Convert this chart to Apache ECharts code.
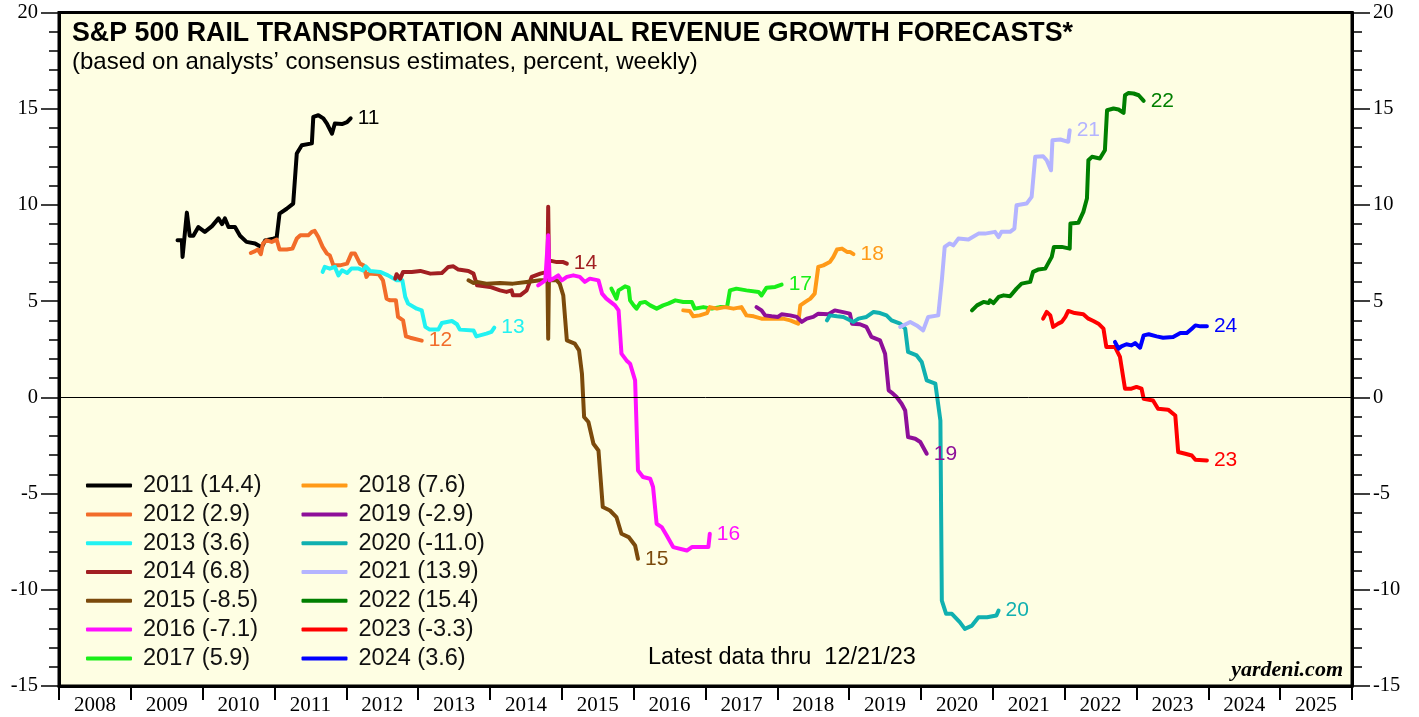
<!DOCTYPE html>
<html>
<head>
<meta charset="utf-8">
<title>S&amp;P 500 Rail Transportation Annual Revenue Growth Forecasts</title>
<script src="https://cdn.jsdelivr.net/npm/echarts@6/dist/echarts.min.js"></script>
<style>
  html, body { margin: 0; padding: 0; background: #ffffff; }
  #chart { width: 1419px; height: 717px; }
</style>
</head>
<body>
<div id="chart"></div>
<script>
'use strict';

// year slots on the bottom axis
var years = ['2008','2009','2010','2011','2012','2013','2014','2015','2016','2017',
             '2018','2019','2020','2021','2022','2023','2024','2025'];

// legend names: forecast year (final value)
var names = ['2011 (14.4)','2012 (2.9)','2013 (3.6)','2014 (6.8)','2015 (-8.5)','2016 (-7.1)','2017 (5.9)',
             '2018 (7.6)','2019 (-2.9)','2020 (-11.0)','2021 (13.9)','2022 (15.4)','2023 (-3.3)','2024 (3.6)'];
var tags = ['11','12','13','14','15','16','17','18','19','20','21','22','23','24'];

// weekly consensus forecasts, [decimal year, percent]
var fc2011 = [[2009.65,8.16],[2009.71,8.16],[2009.72,7.3],[2009.78,9.6],[2009.82,8.4],[2009.87,8.4],[2009.94,8.85],
  [2010.03,8.6],[2010.13,8.9],[2010.22,9.3],[2010.27,9.0],[2010.31,9.3],[2010.36,8.85],[2010.45,8.85],[2010.52,8.4],
  [2010.61,8.08],[2010.73,8.0],[2010.82,7.8],[2010.87,8.15],[2010.98,8.25],[2011.03,8.3],[2011.07,9.55],[2011.17,9.8],
  [2011.26,10.07],[2011.31,12.67],[2011.38,13.1],[2011.52,13.2],[2011.54,14.58],[2011.61,14.66],[2011.68,14.5],
  [2011.73,14.23],[2011.80,13.7],[2011.84,14.23],[2011.94,14.2],[2012.01,14.3],[2012.06,14.5]];
var fc2012 = [[2010.67,7.5],[2010.73,7.6],[2010.77,7.68],[2010.81,7.44],[2010.84,8.0],[2010.89,8.16],[2010.96,8.08],
  [2011.03,8.2],[2011.07,7.68],[2011.17,7.68],[2011.25,7.73],[2011.31,8.25],[2011.36,8.42],[2011.47,8.42],[2011.52,8.6],
  [2011.56,8.65],[2011.61,8.33],[2011.67,7.82],[2011.73,7.47],[2011.77,7.38],[2011.82,6.86],[2011.91,6.86],[2012.01,6.95],
  [2012.07,7.47],[2012.12,7.47],[2012.19,6.95],[2012.24,6.86],[2012.28,6.26],[2012.31,6.43],[2012.45,6.4],[2012.51,6.08],
  [2012.56,5.13],[2012.61,5.04],[2012.69,5.04],[2012.72,4.18],[2012.79,4.0],[2012.83,3.17],[2012.89,3.1],[2013.05,2.95]];
var fc2013 = [[2011.67,6.52],[2011.70,6.78],[2011.77,6.69],[2011.84,6.78],[2011.89,6.34],[2011.94,6.6],[2012.01,6.46],
  [2012.07,6.69],[2012.17,6.69],[2012.23,6.6],[2012.27,6.81],[2012.33,6.57],[2012.47,6.52],[2012.58,6.34],[2012.70,6.08],
  [2012.78,6.08],[2012.82,5.22],[2012.86,4.87],[2012.98,4.61],[2013.05,4.52],[2013.10,3.66],[2013.16,3.52],[2013.28,3.52],
  [2013.33,3.86],[2013.47,3.97],[2013.54,3.8],[2013.58,3.52],[2013.77,3.48],[2013.81,3.17],[2013.95,3.31],[2014.02,3.4],
  [2014.06,3.62]];
var fc2014 = [[2012.68,6.17],[2012.70,6.4],[2012.75,6.17],[2012.79,6.52],[2012.91,6.52],[2013.03,6.57],[2013.17,6.43],
  [2013.33,6.46],[2013.37,6.6],[2013.42,6.78],[2013.49,6.81],[2013.56,6.64],[2013.70,6.57],[2013.77,6.43],[2013.82,5.82],
  [2014.00,5.74],[2014.14,5.56],[2014.23,5.48],[2014.30,5.56],[2014.32,5.3],[2014.42,5.3],[2014.51,5.56],[2014.58,6.26],
  [2014.70,6.43],[2014.80,6.52],[2014.81,9.9],[2014.82,7.12],[2014.93,7.03],[2015.02,7.03],[2015.07,6.95]];
var fc2015 = [[2013.70,6.08],[2013.77,5.94],[2013.82,6.0],[2013.95,5.91],[2014.14,5.94],[2014.32,5.91],[2014.51,6.0],
  [2014.70,6.08],[2014.80,6.08],[2014.81,3.05],[2014.82,6.08],[2014.93,6.08],[2014.97,5.91],[2015.02,5.3],[2015.07,2.96],
  [2015.18,2.79],[2015.24,2.44],[2015.28,1.23],[2015.31,-1.02],[2015.37,-1.28],[2015.44,-2.41],[2015.51,-2.76],
  [2015.57,-5.7],[2015.67,-5.88],[2015.76,-6.22],[2015.83,-7.09],[2015.93,-7.26],[2016.02,-7.7],[2016.06,-8.39]];
var fc2016 = [[2014.67,5.82],[2014.77,6.08],[2014.81,8.42],[2014.83,6.08],[2014.88,6.17],[2014.95,6.34],[2015.00,6.08],
  [2015.07,6.26],[2015.16,6.34],[2015.25,6.26],[2015.32,6.0],[2015.39,6.17],[2015.51,6.08],[2015.56,5.39],[2015.62,5.13],
  [2015.74,4.78],[2015.79,4.52],[2015.83,2.27],[2015.90,1.92],[2015.95,1.75],[2016.02,0.88],[2016.06,-3.8],[2016.13,-4.14],
  [2016.23,-4.23],[2016.27,-4.66],[2016.32,-6.57],[2016.39,-6.74],[2016.46,-7.18],[2016.55,-7.78],[2016.74,-7.96],
  [2016.81,-7.78],[2017.04,-7.78],[2017.06,-7.09]];
var fc2017 = [[2015.69,5.65],[2015.76,5.13],[2015.79,5.56],[2015.83,5.65],[2015.88,5.77],[2015.93,5.7],[2015.95,5.04],
  [2016.00,4.78],[2016.04,4.61],[2016.09,4.9],[2016.16,4.96],[2016.23,4.78],[2016.32,4.61],[2016.41,4.78],[2016.48,4.87],
  [2016.58,5.04],[2016.69,4.96],[2016.81,4.96],[2016.85,4.61],[2016.97,4.69],[2017.09,4.61],[2017.20,4.69],[2017.30,4.69],
  [2017.34,5.56],[2017.43,5.65],[2017.57,5.56],[2017.74,5.48],[2017.78,5.3],[2017.85,5.7],[2017.97,5.74],[2018.06,5.86]];
var fc2018 = [[2016.69,4.52],[2016.78,4.49],[2016.83,4.21],[2016.92,4.26],[2017.02,4.38],[2017.06,4.69],[2017.16,4.61],
  [2017.27,4.69],[2017.39,4.61],[2017.50,4.69],[2017.57,4.26],[2017.67,4.21],[2017.78,4.09],[2017.94,4.09],[2018.08,4.09],
  [2018.18,4.0],[2018.29,3.83],[2018.32,4.78],[2018.39,4.96],[2018.46,5.13],[2018.52,5.39],[2018.57,6.78],[2018.64,6.86],
  [2018.73,7.03],[2018.78,7.3],[2018.83,7.68],[2018.90,7.73],[2018.97,7.56],[2019.01,7.56],[2019.06,7.44]];
var fc2019 = [[2017.71,4.69],[2017.78,4.52],[2017.83,4.26],[2017.92,4.21],[2018.01,4.18],[2018.06,4.32],[2018.18,4.26],
  [2018.27,4.18],[2018.34,3.92],[2018.41,4.09],[2018.50,4.18],[2018.57,4.35],[2018.71,4.32],[2018.80,4.52],[2018.90,4.44],
  [2019.01,4.35],[2019.04,3.83],[2019.15,3.8],[2019.24,3.66],[2019.31,3.14],[2019.43,2.96],[2019.50,2.27],[2019.55,0.36],
  [2019.61,0.19],[2019.66,0.02],[2019.73,-0.33],[2019.78,-0.68],[2019.82,-2.06],[2019.92,-2.15],[2019.99,-2.32],
  [2020.08,-2.93]];
var fc2020 = [[2018.69,4.0],[2018.73,4.26],[2018.83,4.21],[2018.92,4.18],[2019.06,3.92],[2019.13,4.09],[2019.24,4.18],
  [2019.34,4.44],[2019.43,4.38],[2019.52,4.26],[2019.59,4.0],[2019.71,3.83],[2019.78,3.57],[2019.82,2.36],[2019.94,2.18],
  [2020.01,1.84],[2020.08,0.88],[2020.20,0.71],[2020.27,-1.2],[2020.29,-10.56],[2020.35,-11.25],[2020.43,-11.25],
  [2020.54,-11.68],[2020.61,-12.03],[2020.71,-11.86],[2020.80,-11.43],[2020.92,-11.43],[2021.05,-11.34],[2021.08,-11.08]];
var fc2021 = [[2019.71,3.66],[2019.85,3.92],[2019.94,3.74],[2020.03,3.48],[2020.10,4.18],[2020.24,4.26],[2020.29,6.08],
  [2020.33,7.82],[2020.40,8.0],[2020.45,7.9],[2020.52,8.25],[2020.66,8.2],[2020.80,8.51],[2020.89,8.51],[2021.03,8.6],
  [2021.08,8.33],[2021.12,8.6],[2021.24,8.6],[2021.30,8.77],[2021.33,9.98],[2021.47,10.07],[2021.54,10.42],[2021.59,12.5],
  [2021.70,12.53],[2021.75,12.32],[2021.81,11.8],[2021.83,13.36],[2021.94,13.4],[2022.05,13.28],[2022.07,13.88]];
var fc2022 = [[2020.71,4.52],[2020.78,4.78],[2020.87,4.96],[2020.94,4.9],[2020.96,5.04],[2021.01,4.9],[2021.08,5.22],
  [2021.15,5.3],[2021.24,5.25],[2021.33,5.65],[2021.40,5.91],[2021.52,6.0],[2021.56,6.52],[2021.63,6.64],[2021.73,6.69],
  [2021.82,7.3],[2021.85,7.82],[2021.96,7.82],[2022.07,7.73],[2022.08,9.03],[2022.19,9.07],[2022.26,9.64],[2022.31,10.33],
  [2022.33,12.32],[2022.38,12.5],[2022.49,12.41],[2022.56,12.84],[2022.59,14.92],[2022.68,15.01],[2022.75,14.96],
  [2022.82,14.78],[2022.84,15.7],[2022.89,15.82],[2022.96,15.79],[2023.03,15.7],[2023.10,15.41]];
var fc2023 = [[2021.70,4.09],[2021.75,4.44],[2021.80,4.26],[2021.84,3.66],[2021.91,3.83],[2021.96,3.92],[2022.01,4.18],
  [2022.05,4.49],[2022.14,4.38],[2022.26,4.32],[2022.33,4.09],[2022.40,3.97],[2022.47,3.83],[2022.54,3.57],[2022.58,2.62],
  [2022.70,2.62],[2022.77,2.1],[2022.84,0.45],[2022.93,0.45],[2023.00,0.54],[2023.07,0.45],[2023.10,-0.07],[2023.23,-0.16],
  [2023.30,-0.59],[2023.44,-0.64],[2023.54,-0.94],[2023.58,-2.84],[2023.68,-2.93],[2023.77,-3.02],[2023.82,-3.24],
  [2023.98,-3.28]];
var fc2024 = [[2022.70,2.88],[2022.75,2.53],[2022.79,2.65],[2022.86,2.76],[2022.93,2.7],[2022.98,2.82],[2023.05,2.58],
  [2023.10,3.22],[2023.17,3.28],[2023.28,3.17],[2023.37,3.1],[2023.51,3.14],[2023.61,3.34],[2023.70,3.34],[2023.77,3.57],
  [2023.82,3.74],[2023.89,3.69],[2023.98,3.69]];

var allData = [fc2011, fc2012, fc2013, fc2014, fc2015, fc2016, fc2017,
               fc2018, fc2019, fc2020, fc2021, fc2022, fc2023, fc2024];

var colors = ['#000000','#f26c2a','#22f2f2','#a11f22','#7b4a0c','#ff10ff','#19ee19',
              '#ff9a18','#8e0f99','#10b0b0','#b4b4ff','#007f00','#ff0000','#0000ff'];

var SANS = 'Liberation Sans, Arial, sans-serif';
var SERIF = 'Liberation Serif, Times New Roman, serif';

var series = [];
for (var i = 0; i < allData.length; i++) {
	var s = {
		name: names[i],
		type: 'line',
		xAxisIndex: 1,
		yAxisIndex: 0,
		color: colors[i],
		symbol: 'none',
		showSymbol: false,
		lineStyle: {width: 4, color: colors[i], cap: 'round', join: 'round'},
		endLabel: {
			show: true,
			formatter: tags[i],
			color: colors[i],
			fontFamily: SANS,
			fontSize: 21,
			distance: 7
		},
		data: allData[i]
	};
	if (i === 0) {
		// thin zero line across the plot
		s.markLine = {
			silent: true,
			symbol: ['none', 'none'],
			label: {show: false},
			lineStyle: {color: '#000', width: 1, type: 'solid'},
			data: [{yAxis: 0}]
		};
	}
	series.push(s);
}

var legendBase = {
	orient: 'vertical',
	top: 473.6,
	padding: 0,
	itemWidth: 46,
	itemHeight: 4,
	itemGap: 4.8,
	icon: 'roundRect',
	selectedMode: false,
	textStyle: {
		fontFamily: SANS,
		fontSize: 23.5,
		lineHeight: 23.7,
		color: '#111',
		padding: [0, 0, 0, 6]
	}
};

var yAxisBase = {
	type: 'value',
	min: -15,
	max: 20,
	interval: 5,
	axisLine: {show: true, onZero: false, lineStyle: {color: '#000', width: 3}},
	axisTick: {show: true, length: 18, lineStyle: {color: '#000', width: 1.5}},
	minorTick: {show: true, splitNumber: 5, length: 10, lineStyle: {color: '#000', width: 1.5}},
	axisLabel: {fontFamily: SERIF, fontSize: 20.5, color: '#000', margin: 21},
	splitLine: {show: false}
};

var option = {
	animation: false,
	title: [
		{
			text: 'S&P 500 RAIL TRANSPORTATION ANNUAL REVENUE GROWTH FORECASTS*',
			left: 72, top: 20, padding: 0,
			textStyle: {fontFamily: SANS, fontSize: 26.8, fontWeight: 'bold', color: '#000'}
		},
		{
			text: '(based on analysts\u2019 consensus estimates, percent, weekly)',
			left: 72, top: 50, padding: 0,
			textStyle: {fontFamily: SANS, fontSize: 24, fontWeight: 'normal', color: '#000'}
		},
		{
			text: 'Latest data thru  12/21/23',
			left: 648, top: 646, padding: 0,
			textStyle: {fontFamily: SANS, fontSize: 23.5, fontWeight: 'normal', color: '#000'}
		},
		{
			text: 'yardeni.com',
			right: 76, top: 659, padding: 0,
			textStyle: {fontFamily: SERIF, fontSize: 22, fontWeight: 'bold', fontStyle: 'italic', color: '#000'}
		}
	],
	legend: [
		Object.assign({}, legendBase, {left: 86, data: names.slice(0, 7)}),
		Object.assign({}, legendBase, {left: 301.5, data: names.slice(7)})
	],
	grid: {
		left: 59,
		right: 67,
		top: 12.5,
		bottom: 31,
		show: true,
		backgroundColor: '#fefee3',
		borderColor: '#000',
		borderWidth: 3
	},
	xAxis: [
		{
			type: 'category',
			data: years,
			boundaryGap: true,
			axisLine: {show: true, onZero: false, lineStyle: {color: '#000', width: 3}},
			axisTick: {show: true, interval: 0, length: 14, lineStyle: {color: '#000', width: 2}},
			axisLabel: {interval: 0, fontFamily: SERIF, fontSize: 21, color: '#000', margin: 9},
			splitLine: {show: false}
		},
		{
			type: 'value',
			min: 2008,
			max: 2026,
			show: false,
			axisLine: {onZero: false},
			splitLine: {show: false}
		}
	],
	yAxis: [
		Object.assign({}, yAxisBase, {position: 'left'}),
		Object.assign({}, yAxisBase, {position: 'right'})
	],
	series: series
};

var chart = echarts.init(document.getElementById('chart'));
chart.setOption(option);

window.onresize = function() {
	chart.resize();
};
</script>
</body>
</html>
